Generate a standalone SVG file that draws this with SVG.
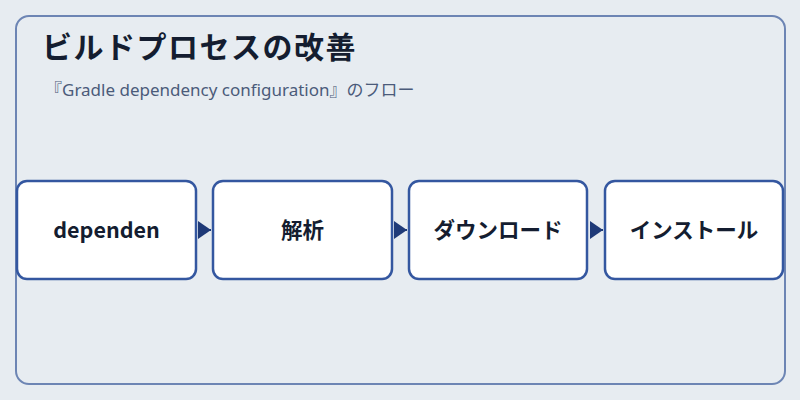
<svg xmlns="http://www.w3.org/2000/svg" width="800" height="400" viewBox="0 0 800 400">
<defs>
<style>
.node rect{fill:#ffffff;stroke:#3457a0;stroke-width:2.5}
.node text{font-family:"Noto Sans CJK JP","Noto Sans",sans-serif;font-size:21.5px;font-weight:bold;fill:#141d30;text-anchor:middle}
.conn{stroke:#1f3a78;stroke-width:2;fill:none}
</style>
<marker id="arr" viewBox="0 0 10 10" refX="10" refY="5" markerWidth="13" markerHeight="18" markerUnits="userSpaceOnUse" orient="auto" preserveAspectRatio="none">
<path d="M0,0 L10,5 L0,10 Z" fill="#1f3a78"/>
</marker>
</defs>
<rect width="800" height="400" fill="#e7ecf1"/>
<rect x="16" y="16" width="769" height="368" rx="13" fill="#e7ecf1" stroke="#6d85b4" stroke-width="2"/>
<text x="42" y="58" font-family="Noto Sans CJK JP,sans-serif" font-size="30" font-weight="bold" letter-spacing="1.5" fill="#141d30">ビルドプロセスの改善</text>
<text x="45" y="96" font-family="'Noto Sans','Noto Sans CJK JP',sans-serif" font-size="17" fill="#4b5b7a">『Gradle dependency configuration』のフロー</text>
<g id="connectors">
<line class="conn" x1="198" y1="230" x2="211" y2="230" marker-end="url(#arr)"/>
<line class="conn" x1="394" y1="230" x2="407" y2="230" marker-end="url(#arr)"/>
<line class="conn" x1="590" y1="230" x2="603" y2="230" marker-end="url(#arr)"/>
</g>
<g id="n1" class="node"><rect x="17" y="181" width="179" height="98" rx="10"/><text x="106.5" y="238">dependen</text></g>
<g id="n2" class="node"><rect x="213" y="181" width="179" height="98" rx="10"/><text x="302.5" y="238">解析</text></g>
<g id="n3" class="node"><rect x="409" y="181" width="178" height="98" rx="10"/><text x="498" y="238">ダウンロード</text></g>
<g id="n4" class="node"><rect x="605" y="181" width="178" height="98" rx="10"/><text x="694" y="238">インストール</text></g>
</svg>
